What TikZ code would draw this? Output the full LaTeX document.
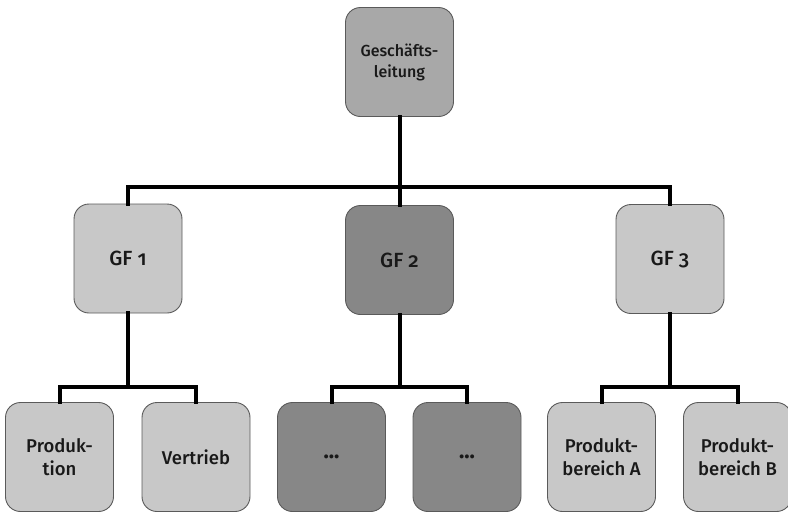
\documentclass[tikz,border=0pt]{standalone}
\usepackage{fontspec}
\setmainfont{Fira Sans}[UprightFont={* Medium}, BoldFont={* Bold}, Numbers=OldStyle]
\definecolor{boxlight}{RGB}{200,200,200}
\definecolor{boxmid}{RGB}{168,168,168}
\definecolor{boxdark}{RGB}{135,135,135}
\definecolor{boxline}{RGB}{90,90,90}
\begin{document}
\begin{tikzpicture}[x=1pt,y=-1pt,
  unit/.style={draw=boxline, line width=0.9pt, rounded corners=15pt,
    minimum width=108pt, minimum height=109pt, inner sep=0pt,
    align=center, text=black!90},
  light/.style={unit, fill=boxlight},
  toplevel/.style={unit, fill=boxmid, font=\fontsize{16}{21}\selectfont},
  dark/.style={unit, fill=boxdark},
  gf/.style={font=\fontsize{20.5}{26}\selectfont},
  leaf/.style={font=\fontsize{18.5}{23}\selectfont},
  dots/.style={font=\fontsize{22}{26}\selectfont\bfseries},
  link/.style={line width=4pt, draw=black, line join=miter, line cap=rect}]
\useasboundingbox (0,0) rectangle (788,512);

% management board
\node[toplevel] (gl) at (399.5,62) {Geschäfts-\\leitung};

% business divisions
\node[light,gf] (gf1) at (128,258.5) {GF 1};
\node[dark,gf]  (gf2) at (399.5,260) {GF 2};
\node[light,gf] (gf3) at (670,259) {GF 3};

% departments
\node[light,leaf] (prod) at (59.5,457) {Produk-\\tion};
\node[light,leaf] (vert) at (196,457) {Vertrieb};
\node[dark,dots]  (x1)   at (331.5,457) {...};
\node[dark,dots]  (x2)   at (467,457) {...};
\node[light,leaf] (pa)   at (601.5,457) {Produkt-\\bereich A};
\node[light,leaf] (pb)   at (737.5,457) {Produkt-\\bereich B};

% bus levels
\coordinate (bus0) at (399.5,187);
\coordinate (bus1) at (128,387);
\coordinate (bus2) at (399.5,387);
\coordinate (bus3) at (670,387);

% connectors
\draw[link] (gl.south) -- (gf2.north);
\draw[link] (gf1.north) |- (bus0) -| (gf3.north);
\draw[link] (gf1.south) -- (bus1);
\draw[link] (prod.north) |- (bus1) -| (vert.north);
\draw[link] (gf2.south) -- (bus2);
\draw[link] (x1.north) |- (bus2) -| (x2.north);
\draw[link] (gf3.south) -- (bus3);
\draw[link] (pa.north) |- (bus3) -| (pb.north);
\end{tikzpicture}
\end{document}
